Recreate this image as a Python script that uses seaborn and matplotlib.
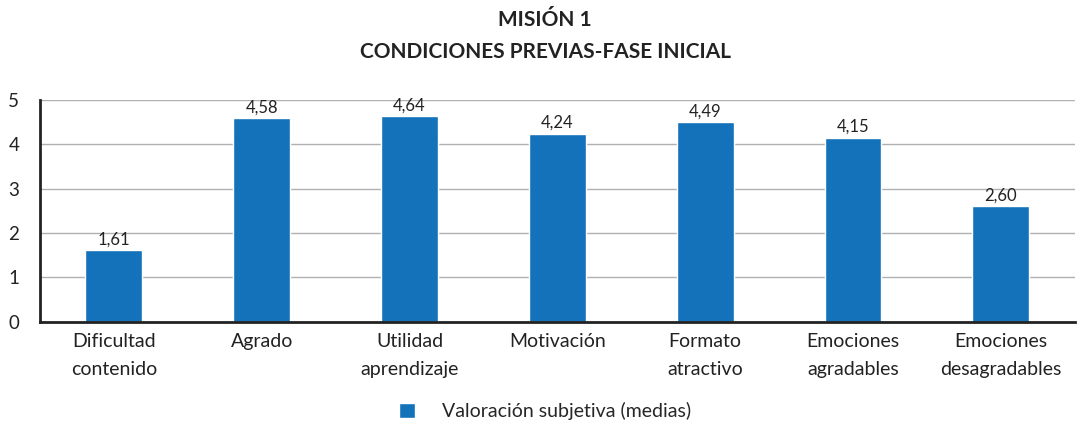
import matplotlib
matplotlib.use('Agg')
import matplotlib.pyplot as plt
import seaborn as sns
import pandas as pd

# datos
categorias = ['Dificultad\ncontenido', 'Agrado', 'Utilidad\naprendizaje', 'Motivación',
              'Formato\natractivo', 'Emociones\nagradables', 'Emociones\ndesagradables']
medias = [1.61, 4.58, 4.64, 4.24, 4.49, 4.15, 2.60]
etiquetas = ['1,61', '4,58', '4,64', '4,24', '4,49', '4,15', '2,60']
serie = 'Valoración subjetiva (medias)'

azul = '#1372BA'

sns.set_style('white')
plt.rcParams['font.family'] = ['Lato', 'DejaVu Sans']

df = pd.DataFrame({'categoria': categorias, 'media': medias, 'serie': serie})

fig = plt.figure(figsize=(10.9, 4.23), dpi=100)
ax = fig.add_axes([0.0367, 0.239, 0.9493, 0.525])

sns.barplot(data=df, x='categoria', y='media', hue='serie', palette=[azul],
            width=0.385, ax=ax, legend=False, saturation=1)

ax.set_ylim(0, 5)
ax.set_yticks([0, 1, 2, 3, 4, 5])
ax.yaxis.grid(True, color='#b0b0b0', linewidth=1)
ax.set_axisbelow(True)
ax.set_xlim(-0.5, 6.5)
ax.set_xlabel('')
ax.set_ylabel('')
for s in ['top', 'right']:
    ax.spines[s].set_visible(False)
ax.spines['left'].set_color('#222222')
ax.spines['left'].set_linewidth(2)
ax.spines['bottom'].set_color('#222222')
ax.spines['bottom'].set_linewidth(2)
ax.tick_params(axis='y', length=7, color='#b0b0b0', labelsize=13.5, pad=8, labelcolor='#222222')
ax.tick_params(axis='x', length=0, pad=8)
ax.set_xticks(range(len(categorias)))
ax.set_xticklabels(categorias, linespacing=1.75, fontsize=14, color='#222222')

for i, (v, t) in enumerate(zip(medias, etiquetas)):
    ax.text(i, v + 0.06, t, ha='center', va='bottom', fontsize=12, color='#222222')

fig.text(0.5, 0.952, 'MISIÓN 1', ha='center', va='center', fontsize=15,
         fontweight='bold', color='#222222')
fig.text(0.5, 0.876, 'CONDICIONES PREVIAS-FASE INICIAL', ha='center', va='center',
         fontsize=15, fontweight='bold', color='#222222')

# leyenda
from matplotlib.patches import Patch
fig.legend(handles=[Patch(facecolor=azul, label=serie)], loc='center',
           bbox_to_anchor=(0.5, 0.028), frameon=False, fontsize=14,
           handlelength=0.8, handleheight=0.8, handletextpad=1.4)

fig.savefig('out.png', dpi=100)
